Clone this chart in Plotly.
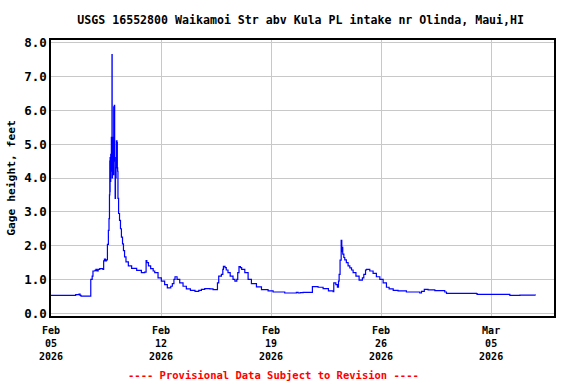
import pandas as pd
import plotly.graph_objects as go

# Days since 2026-02-05 00:00 and gage height (feet)
day_offsets = [
    0.00, 1.57, 1.78, 1.85, 1.91, 2.53, 2.62, 2.67, 2.80, 2.86, 2.92, 3.00, 3.10, 3.30,
    3.35, 3.40, 3.46, 3.52, 3.59, 3.65, 3.69, 3.72, 3.74, 3.75, 3.76, 3.78, 3.80, 3.82,
    3.84, 3.86, 3.88, 3.89, 3.91, 3.93, 3.95, 3.97, 3.99, 4.01, 4.03, 4.05, 4.08, 4.10,
    4.12, 4.14, 4.16, 4.20, 4.22, 4.24, 4.26, 4.30, 4.36, 4.42, 4.48, 4.55, 4.61, 4.68,
    4.77, 4.92, 5.13, 5.45, 5.75, 5.96, 6.05, 6.10, 6.20, 6.34, 6.50, 6.60, 6.81, 7.02,
    7.23, 7.40, 7.55, 7.62, 7.72, 7.82, 7.89, 8.02, 8.19, 8.40, 8.61, 8.87, 9.16, 9.40,
    9.57, 9.78, 10.10, 10.31, 10.52, 10.59, 10.67, 10.84, 10.93, 10.97, 11.07, 11.15,
    11.26, 11.40, 11.58, 11.70, 11.82, 11.88, 11.96, 12.05, 12.13, 12.33, 12.54, 12.75,
    13.07, 13.39, 13.81, 14.13, 14.87, 15.61, 15.72, 15.85, 16.04, 16.63, 16.99, 17.31,
    17.65, 17.95, 17.99, 18.12, 18.22, 18.29, 18.33, 18.39, 18.46, 18.50, 18.52, 18.56,
    18.63, 18.69, 18.79, 18.90, 19.01, 19.12, 19.22, 19.40, 19.60, 19.71, 19.81, 19.90,
    20.01, 20.07, 20.28, 20.49, 20.70, 20.92, 21.13, 21.34, 21.51, 21.77, 22.08, 22.20,
    22.61, 23.46, 23.57, 23.75, 23.99, 24.42, 25.05, 25.16, 27.07, 27.11, 29.08, 29.19,
    29.83, 30.82,
]
gage_height_ft = [
    0.53, 0.55, 0.57, 0.53, 0.51, 1.00, 1.10, 1.25, 1.27, 1.30, 1.25, 1.30, 1.32, 1.30,
    1.55, 1.60, 1.55, 1.58, 2.04, 2.45, 2.80, 3.50, 4.50, 3.60, 4.60, 3.90, 4.70, 4.30,
    5.20, 4.20, 7.65, 4.00, 5.00, 4.20, 5.20, 4.10, 6.10, 4.50, 6.15, 4.60, 3.40, 4.30,
    4.00, 4.30, 5.10, 5.05, 4.30, 4.20, 3.40, 2.95, 2.75, 2.50, 2.25, 2.05, 1.85, 1.67,
    1.52, 1.40, 1.33, 1.27, 1.20, 1.22, 1.56, 1.50, 1.40, 1.32, 1.25, 1.20, 1.05, 0.95,
    0.85, 0.75, 0.75, 0.80, 0.88, 1.00, 1.08, 1.00, 0.90, 0.80, 0.72, 0.68, 0.65, 0.68,
    0.71, 0.73, 0.72, 0.70, 0.70, 0.90, 1.10, 1.15, 1.30, 1.39, 1.35, 1.28, 1.20, 1.10,
    1.00, 0.95, 1.00, 1.20, 1.38, 1.35, 1.30, 1.20, 1.00, 0.88, 0.78, 0.70, 0.66, 0.63,
    0.60, 0.62, 0.60, 0.61, 0.62, 0.79, 0.77, 0.73, 0.66, 0.64, 0.90, 0.85, 0.77, 0.95,
    1.15, 1.57, 2.16, 1.82, 1.95, 1.75, 1.65, 1.58, 1.50, 1.40, 1.34, 1.28, 1.20, 1.10,
    0.98, 0.98, 1.05, 1.15, 1.28, 1.30, 1.25, 1.18, 1.08, 1.00, 0.90, 0.77, 0.72, 0.68,
    0.66, 0.66, 0.63, 0.60, 0.65, 0.71, 0.69, 0.67, 0.63, 0.59, 0.58, 0.56, 0.56, 0.53,
    0.54, 0.53,
]

tick_dates = ["2026-02-05", "2026-02-12", "2026-02-19", "2026-02-26", "2026-03-05"]
tick_labels = ["Feb<br>05<br>2026", "Feb<br>12<br>2026", "Feb<br>19<br>2026",
               "Feb<br>26<br>2026", "Mar<br>05<br>2026"]
y_ticks = [0, 1, 2, 3, 4, 5, 6, 7, 8]

title_text = "USGS 16552800 Waikamoi Str abv Kula PL intake nr Olinda, Maui,HI"
y_title = "Gage height, feet"
footer_text = "---- Provisional Data Subject to Revision ----"

start = pd.Timestamp("2026-02-05")
times = start + pd.to_timedelta(day_offsets, unit="D")

FONT = "DejaVu Sans Mono"

fig = go.Figure()
fig.add_trace(go.Scatter(
    x=times, y=gage_height_ft, mode="lines",
    line=dict(color="#0000ff", width=1.2, shape="hv"),
    showlegend=False, hoverinfo="skip",
))

fig.update_layout(
    width=576, height=384, autosize=False,
    margin=dict(l=51, r=22, t=40, b=68, autoexpand=False),
    paper_bgcolor="white", plot_bgcolor="white",
    font=dict(family=FONT, color="black", size=11),
    title=dict(text="<b>" + title_text + "</b>", x=0.522, xanchor="center",
               y=1 - 20 / 384, yanchor="middle",
               font=dict(family=FONT, size=11.6, color="black")),
)

fig.update_xaxes(
    type="date", range=["2026-02-05", "2026-03-09"],
    tickmode="array", tickvals=tick_dates,
    ticktext=["<b>" + t.replace("<br>", "</b><br><b>") + "</b>" for t in tick_labels],
    tickfont=dict(family=FONT, size=10, color="black"),
    ticklabelstandoff=4,
    showgrid=True, gridcolor="#c8c8c8", gridwidth=1,
    showline=True, linecolor="black", linewidth=1.5, mirror=True,
    ticks="", zeroline=False, automargin=False,
)
fig.update_yaxes(
    range=[-0.08, 8.08], tickmode="array", tickvals=y_ticks,
    ticktext=["<b>%.1f</b>" % v for v in y_ticks],
    tickfont=dict(family=FONT, size=12.5, color="black"),
    showgrid=True, gridcolor="#c8c8c8", gridwidth=1,
    showline=True, linecolor="black", linewidth=1.5, mirror=True,
    ticks="", zeroline=False, automargin=False,
    title=dict(text="<b>" + y_title + "</b>", font=dict(family=FONT, size=11.3, color="black"),
               standoff=6),
)

fig.add_annotation(
    text="<b>" + footer_text + "</b>", xref="paper", yref="paper",
    x=0.442, y=-(375 - 316) / 276.3, xanchor="center", yanchor="middle",
    showarrow=False, font=dict(family=FONT, size=10.5, color="#ff0000"),
)

fig.write_html("out.html", config={"displayModeBar": False},
               post_script="document.body.style.margin='0';document.body.style.padding='0';")
